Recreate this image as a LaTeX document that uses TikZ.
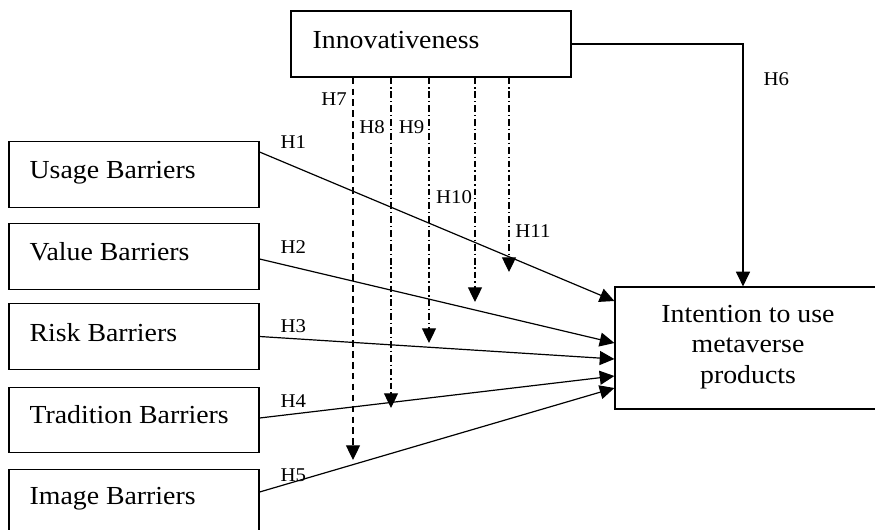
\documentclass[tikz,border=0pt]{standalone}
\usepackage{fontspec}
\setmainfont{Liberation Serif}[FakeStretch=1.07]
\usetikzlibrary{arrows.meta,calc}
\begin{document}
\begin{tikzpicture}[x=0.75pt,y=-0.75pt,
  line width=0.9pt,
  box/.style={draw,rectangle,inner sep=0pt},
  lbox/.style={box,minimum width=250*0.75pt,minimum height=65.5*0.75pt},
  bigtext/.style={font=\fontsize{19.5pt}{23pt}\selectfont},
  hlabel/.style={font=\fontsize{14.6pt}{17pt}\selectfont,inner sep=0pt},
  path/.style={-{Triangle[length=11pt,width=10.5pt]}},
  modpath/.style={path,dash pattern=on 5pt off 2.2pt on 1pt off 2.2pt},
  modpathA/.style={path,dash pattern=on 5pt off 3.2pt}
]
\clip (0,0) rectangle (875,529);

% constructs
\node[box,minimum width=280*0.75pt,minimum height=66*0.75pt] (innov) at (431,44) {};
\node[bigtext,anchor=base west,inner sep=0pt] (innovtxt) at (312,48) {Innovativeness};

\node[lbox] (usage) at (134,174.5) {};
\node[lbox] (value) at (134,256.5) {};
\node[lbox] (risk) at (134,336.5) {};
\node[lbox] (trad) at (134,420) {};
\node[lbox] (image) at (134,502) {};
\node[bigtext,anchor=base west,inner sep=0pt] (usagetxt) at (29,178) {Usage Barriers};
\node[bigtext,anchor=base west,inner sep=0pt] (valuetxt) at (29,260) {Value Barriers};
\node[bigtext,anchor=base west,inner sep=0pt] (risktxt) at (29,341) {Risk Barriers};
\node[bigtext,anchor=base west,inner sep=0pt] (tradtxt) at (29,423) {Tradition Barriers};
\node[bigtext,anchor=base west,inner sep=0pt] (imagetxt) at (29,504) {Image Barriers};

\node[box,minimum width=265*0.75pt,minimum height=122*0.75pt] (intent) at (747.5,348) {};
\node[bigtext,align=center,inner sep=0pt] (intenttxt) at (748,347)
  {Intention to use\\metaverse\\products};

% direct effects
\draw[path] ([yshift=22.5*0.75pt]usage.east) -- ([yshift=47*0.75pt]intent.west);
\draw[path] ([yshift=-2.5*0.75pt]value.east) -- ([yshift=5*0.75pt]intent.west);
\draw[path] (risk.east) -- ([yshift=-11*0.75pt]intent.west);
\draw[path] ([yshift=2*0.75pt]trad.east) -- ([yshift=-28*0.75pt]intent.west);
\draw[path] ([yshift=10*0.75pt]image.east) -- ([yshift=-40*0.75pt]intent.west);
\draw[path] (innov.east) -| ([xshift=-4.5*0.75pt]intent.north);

% moderating effects
\coordinate (m7) at (353,460);
\coordinate (m8) at (391,408);
\coordinate (m9) at (429,343);
\coordinate (m10) at (475,302);
\coordinate (m11) at (509,272);
\draw[modpathA] (innov.south -| m7) -- (m7);
\draw[modpath] (innov.south -| m8) -- (m8);
\draw[modpath] (innov.south -| m9) -- (m9);
\draw[modpath] (innov.south -| m10) -- (m10);
\draw[modpath] (innov.south -| m11) -- (m11);

% hypothesis labels
\node[hlabel,anchor=west] (h1) at (280,142) {H1};
\node[hlabel,anchor=west] (h2) at (280,247) {H2};
\node[hlabel,anchor=west] (h3) at (280,326) {H3};
\node[hlabel,anchor=west] (h4) at (280,401) {H4};
\node[hlabel,anchor=west] (h5) at (280,475) {H5};
\node[hlabel,anchor=west] (h6) at (763,79) {H6};
\node[hlabel] (h7) at (334,99) {H7};
\node[hlabel] (h8) at (372,127) {H8};
\node[hlabel] (h9) at (411.5,127) {H9};
\node[hlabel] (h10) at (454,197) {H10};
\node[hlabel] (h11) at (533,231) {H11};
\end{tikzpicture}
\end{document}
